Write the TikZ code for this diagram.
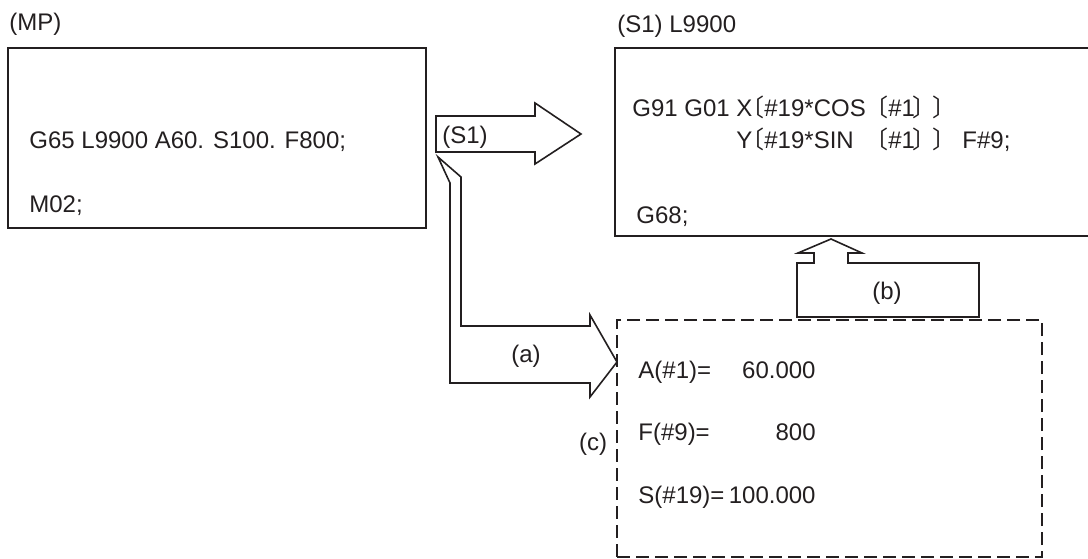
\documentclass[tikz,border=0pt]{standalone}
\usepackage{fontspec}
\setmainfont{Liberation Sans}
\newfontfamily\cjk[RawFeature=+halt]{Noto Sans CJK JP}
\definecolor{ink}{HTML}{231F20}
\newcommand{\lbrk}{{\cjk 〔}}
\newcommand{\rbrk}{{\cjk 〕}}

\tikzset{
  txt/.style={anchor=base west, inner sep=0pt, text=ink, font=\fontsize{12}{14}\selectfont},
  frame/.style={draw=ink, line width=1pt, inner sep=0pt, outer sep=0pt, anchor=north west},
  varframe/.style={frame, dash pattern=on 6.5pt off 3pt},
  blockarrow/.style={draw=ink, line width=0.8pt, fill=white, line join=miter}
}

\begin{document}
\begin{tikzpicture}[x=0.5pt, y=-0.5pt]
\useasboundingbox (0,0) rectangle (1088,558);

% main program
\node[txt] (mplabel) at (9,30) {(MP)};
\node[frame, minimum width=209pt, minimum height=90pt] (mp) at (8,48) {};
\node[txt] (call) at (29,148) {G65 L9900 A60. S100. F800;};
\node[txt] (mpend) at (29,212) {M02;};

% subprogram
\node[txt] (sublabel) at (617,32) {(S1) L9900};
\node[frame, minimum width=243pt, minimum height=94pt] (sub) at (615,48) {};
\node[txt] (lineX) at (632,116) {\makebox[60pt][l]{G91 G01 X}\makebox[62pt][l]{\lbrk\#19*COS}%
  \makebox[28pt][l]{\lbrk\#1\kern-1.5pt\rbrk}\rbrk};
\node[txt] (lineY) at (632,148) {\makebox[60pt][r]{Y}\makebox[62pt][l]{\lbrk\#19*SIN}%
  \makebox[28pt][l]{\lbrk\#1\kern-1.5pt\rbrk}\rbrk\hspace{9pt}F\#9;};
\node[txt] (subend) at (636,223) {G68;};

% local variables
\node[varframe, minimum width=212.5pt, minimum height=118.5pt] (vars) at (617,320) {};
\foreach \name/\val/\y [count=\i] in {A(\#1)=/60.000/378, F(\#9)=/800/440, S(\#19)=/100.000/503}
{
  \node[txt] (var\i) at (638,\y) {\name};
  \node[txt, anchor=base east] (val\i) at (816,\y) {\val};
}
\node[txt, anchor=base] (c) at (593,450) {(c)};

% call arrow
\draw[blockarrow] (436,116) -- (535,116) -- (535,103) -- (581,134)
  -- (535,164) -- (535,152) -- (436,152) -- cycle;
\node[txt] (s1) at (442,143) {(S1)};

% argument arrow
\draw[blockarrow] (438,157) -- (461,177) -- (461,326) -- (590,326) -- (590,315)
  -- (vars.west |- 0,362) -- (590,397) -- (590,383) -- (450,383) -- (450,183) -- cycle;
\node[txt, anchor=base] (a) at (526,362) {(a)};

% reference arrow
\draw[blockarrow] (797,317) -- (797,263) -- (814,263) -- (814,253) -- (798,253)
  -- (831,239) -- (862,253) -- (848,253) -- (848,263) -- (979,263) -- (979,317) -- cycle;
\node[txt, anchor=base] (b) at (887,299) {(b)};
\end{tikzpicture}
\end{document}
